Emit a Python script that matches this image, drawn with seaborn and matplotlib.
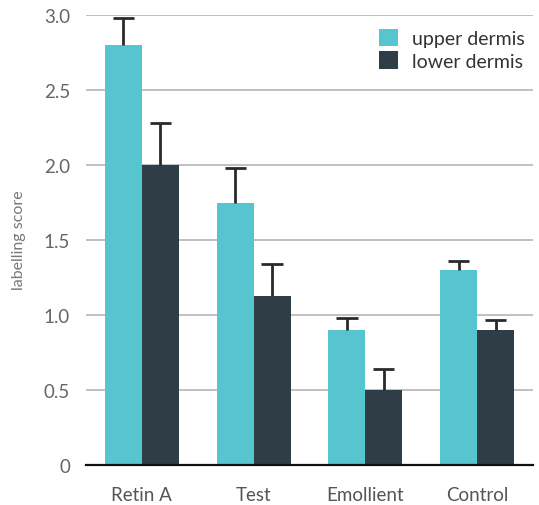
import matplotlib
matplotlib.use("Agg")
import matplotlib.pyplot as plt
import seaborn as sns
import pandas as pd
import numpy as np

categories = ["Retin A", "Test", "Emollient", "Control"]
series = ["upper dermis", "lower dermis"]
upper_vals = [2.80, 1.75, 0.90, 1.30]
lower_vals = [2.00, 1.13, 0.50, 0.90]
upper_err = [0.18, 0.23, 0.08, 0.06]
lower_err = [0.28, 0.21, 0.14, 0.07]
y_ticks = [0, 0.5, 1.0, 1.5, 2.0, 2.5, 3.0]
y_tick_labels = ["0", "0.5", "1.0", "1.5", "2.0", "2.5", "3.0"]

colors = ["#56C5CF", "#2F3D46"]

df = pd.DataFrame({
    "category": categories * 2,
    "series": [series[0]] * 4 + [series[1]] * 4,
    "value": upper_vals + lower_vals,
    "err": upper_err + lower_err,
})

sns.set_style("white")
plt.rcParams["font.family"] = ["Lato", "DejaVu Sans"]

fig = plt.figure(figsize=(5.39, 5.06), dpi=100)
ax = fig.add_axes([86 / 539, 40 / 506, (533 - 86) / 539, 450 / 506])

sns.barplot(data=df, x="category", y="value", hue="series", order=categories,
            hue_order=series, palette=colors, width=0.66, errorbar=None,
            saturation=1, ax=ax, zorder=2, linewidth=0)

# upward-only error bars, positioned from the drawn bars
cap_half = 0.095
for cont, s in zip(ax.containers, series):
    sub = df[df["series"] == s].set_index("category").loc[categories]
    xs = np.array([p.get_x() + p.get_width() / 2 for p in cont.patches])
    ys = sub["value"].values
    tops = ys + sub["err"].values
    ax.vlines(xs, ys, tops, color="#2a2a2a", linewidth=2, zorder=3)
    ax.hlines(tops, xs - cap_half, xs + cap_half, color="#2a2a2a", linewidth=2, zorder=3)

ax.set_xlim(-0.5, 3.5)
ax.set_ylim(0, 3.0)
ax.set_yticks(y_ticks)
ax.set_yticklabels(y_tick_labels)
ax.yaxis.grid(True, color="#BBBBBB", linewidth=1.3, zorder=0)
ax.set_axisbelow(True)

for s in ["top", "right", "left"]:
    ax.spines[s].set_visible(False)
ax.spines["bottom"].set_color("#111111")
ax.spines["bottom"].set_linewidth(1.6)
ax.spines["bottom"].set_zorder(4)

ax.set_xticks(range(len(categories)))
ax.set_xticklabels(categories)
ax.set_xticks([-0.5, 0.5, 1.5, 2.5, 3.5], minor=True)
ax.tick_params(axis="x", which="major", length=0, pad=15, labelsize=13.5, labelcolor="#555555")
ax.tick_params(axis="x", which="minor", length=5, width=1.6, color="#111111", direction="out")
ax.tick_params(axis="y", length=0, pad=11.5, labelsize=13.5, labelcolor="#666666")

ax.set_xlabel("")
ax.set_ylabel("labelling score", fontsize=11.5, color="#777777")
ax.yaxis.set_label_coords(19 / 539, 1 - 240 / 506, transform=fig.transFigure)
ax.yaxis.label.set_verticalalignment("center")

leg = ax.legend(loc="upper left", bbox_to_anchor=(379 / 539, 1 - 30 / 506),
                bbox_transform=fig.transFigure, frameon=False, fontsize=14,
                handlelength=1.0, handleheight=1.0, handletextpad=0.7,
                labelspacing=0.2, borderaxespad=0, borderpad=0)
for t in leg.get_texts():
    t.set_color("#333333")

fig.savefig("out.png", dpi=100)
